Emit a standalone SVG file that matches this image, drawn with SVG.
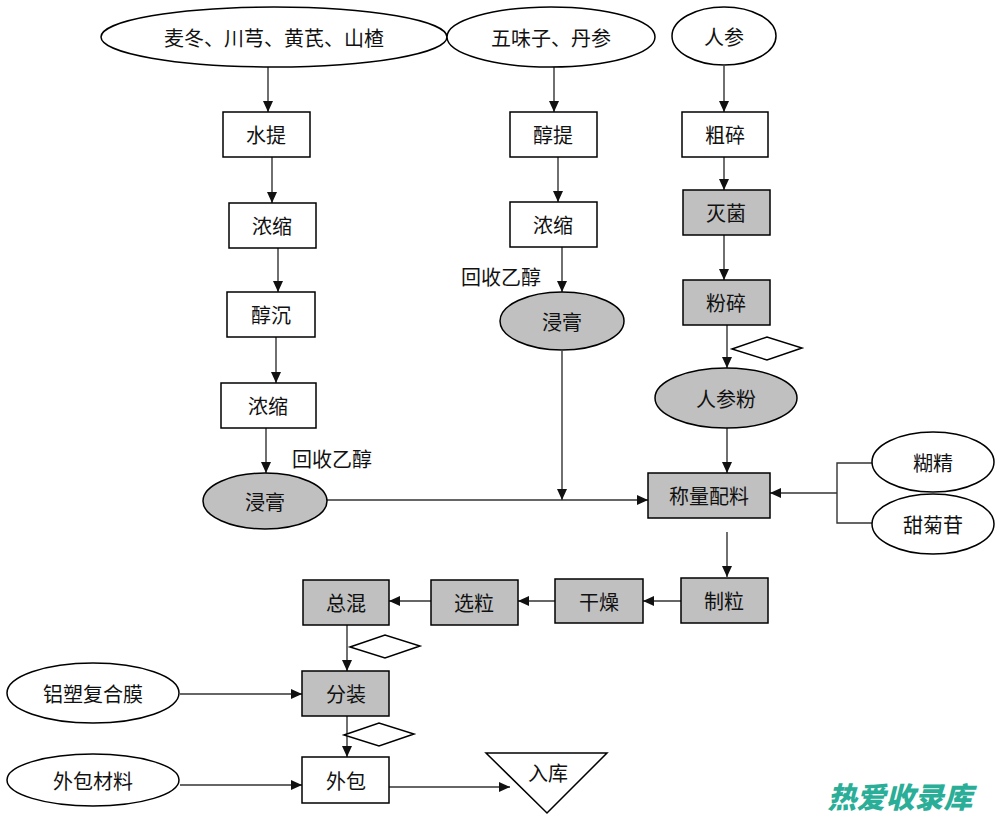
<svg xmlns="http://www.w3.org/2000/svg" width="1000" height="819" viewBox="0 0 1000 819">
<defs>
<style>
.n{fill:#fff;stroke:#000;stroke-width:1.5}
.g{fill:#c0c0c0;stroke:#000;stroke-width:1.5}
.t{font-family:"Noto Sans CJK SC","Liberation Sans",sans-serif;font-size:20px;fill:#111;text-anchor:middle;dominant-baseline:central}
.l{fill:none;stroke:#333;stroke-width:1.4}
.a{marker-end:url(#arr)}
.wm{font-family:"Noto Sans CJK SC",sans-serif;font-size:29px;font-weight:900;font-style:italic;fill:#2aae98;text-anchor:middle}
</style>
<marker id="arr" markerUnits="userSpaceOnUse" markerWidth="12" markerHeight="10" refX="11" refY="5" orient="auto">
<path d="M0,0 L11,5 L0,10 z" fill="#111"/>
</marker>
</defs>
<rect width="1000" height="819" fill="#fff"/>

<g id="connectors">
<line class="l a" x1="268" y1="67" x2="268" y2="112"/>
<line class="l a" x1="272" y1="157" x2="272" y2="203"/>
<line class="l a" x1="278" y1="248" x2="278" y2="292"/>
<line class="l a" x1="276" y1="337" x2="276" y2="383"/>
<line class="l a" x1="266" y1="428" x2="266" y2="473"/>
<line class="l a" x1="327" y1="500" x2="648" y2="500"/>
<line class="l a" x1="554" y1="67" x2="554" y2="112"/>
<line class="l a" x1="558" y1="157" x2="558" y2="202"/>
<line class="l a" x1="562" y1="247" x2="562" y2="292"/>
<line class="l a" x1="562" y1="351" x2="562" y2="500"/>
<line class="l a" x1="724" y1="66" x2="724" y2="112"/>
<line class="l a" x1="724" y1="157" x2="724" y2="190"/>
<line class="l a" x1="724" y1="235" x2="724" y2="280"/>
<line class="l a" x1="727" y1="325" x2="727" y2="368"/>
<line class="l a" x1="727" y1="428" x2="727" y2="473"/>
<polyline class="l" points="873,463 837,463 837,523 873,523"/>
<line class="l a" x1="837" y1="493" x2="770" y2="493"/>
<line class="l a" x1="727" y1="532" x2="727" y2="577"/>
<line class="l a" x1="681" y1="601" x2="643" y2="601"/>
<line class="l a" x1="555" y1="601" x2="518" y2="601"/>
<line class="l a" x1="431" y1="601" x2="389" y2="601"/>
<line class="l a" x1="347" y1="625" x2="347" y2="671"/>
<line class="l a" x1="180" y1="694" x2="302" y2="694"/>
<line class="l a" x1="347" y1="716" x2="347" y2="757"/>
<line class="l a" x1="180" y1="785" x2="302" y2="785"/>
<line class="l a" x1="389" y1="787" x2="510" y2="787"/>
</g>

<g id="e-maidong"><ellipse class="n" cx="274" cy="37" rx="173" ry="30"/><text class="t" x="274" y="37">麦冬、川芎、黄芪、山楂</text></g>
<g id="e-wuweizi"><ellipse class="n" cx="551" cy="37" rx="104" ry="30"/><text class="t" x="551" y="37">五味子、丹参</text></g>
<g id="e-renshen"><ellipse class="n" cx="724" cy="36" rx="52" ry="29"/><text class="t" x="724" y="36">人参</text></g>

<g id="b-shuiti"><rect class="n" x="223" y="112" width="87" height="45"/><text class="t" x="266" y="134">水提</text></g>
<g id="b-nongsuo1"><rect class="n" x="229" y="203" width="87" height="45"/><text class="t" x="272" y="225">浓缩</text></g>
<g id="b-chunchen"><rect class="n" x="227" y="292" width="88" height="45"/><text class="t" x="271" y="314">醇沉</text></g>
<g id="b-nongsuo2"><rect class="n" x="221" y="383" width="95" height="45"/><text class="t" x="268" y="405">浓缩</text></g>
<g id="lbl-huishou1"><text class="t" x="332" y="458">回收乙醇</text></g>
<g id="e-jingao1"><ellipse class="g" cx="265" cy="501" rx="62" ry="28"/><text class="t" x="265" y="501">浸膏</text></g>

<g id="b-chunti"><rect class="n" x="510" y="112" width="87" height="45"/><text class="t" x="553" y="134">醇提</text></g>
<g id="b-nongsuo3"><rect class="n" x="510" y="202" width="87" height="45"/><text class="t" x="553" y="224">浓缩</text></g>
<g id="lbl-huishou2"><text class="t" x="501" y="276">回收乙醇</text></g>
<g id="e-jingao2"><ellipse class="g" cx="562" cy="321" rx="62" ry="29"/><text class="t" x="562" y="321">浸膏</text></g>

<g id="b-cusui"><rect class="n" x="682" y="112" width="86" height="45"/><text class="t" x="725" y="134">粗碎</text></g>
<g id="b-miejun"><rect class="g" x="683" y="190" width="87" height="45"/><text class="t" x="726" y="212">灭菌</text></g>
<g id="b-fensui"><rect class="g" x="683" y="280" width="87" height="45"/><text class="t" x="726" y="302">粉碎</text></g>
<g id="d-1"><polygon class="n" points="732,349 767,337 802,348 767,360"/></g>
<g id="e-renshenfen"><ellipse class="g" cx="726" cy="398" rx="71" ry="30"/><text class="t" x="726" y="398">人参粉</text></g>
<g id="b-chengliang"><rect class="g" x="648" y="473" width="122" height="45"/><text class="t" x="709" y="495">称量配料</text></g>
<g id="e-hujing"><ellipse class="n" cx="933" cy="462" rx="61" ry="30"/><text class="t" x="933" y="462">糊精</text></g>
<g id="e-tianjugan"><ellipse class="n" cx="933" cy="524" rx="61" ry="30"/><text class="t" x="933" y="524">甜菊苷</text></g>

<g id="b-zhili"><rect class="g" x="681" y="578" width="87" height="45"/><text class="t" x="724" y="600">制粒</text></g>
<g id="b-ganzao"><rect class="g" x="555" y="579" width="88" height="44"/><text class="t" x="599" y="601">干燥</text></g>
<g id="b-xuanli"><rect class="g" x="431" y="580" width="87" height="45"/><text class="t" x="474" y="602">选粒</text></g>
<g id="b-zonghun"><rect class="g" x="303" y="580" width="86" height="45"/><text class="t" x="346" y="602">总混</text></g>
<g id="d-2"><polygon class="n" points="350,647 385,635 420,646 385,658"/></g>
<g id="e-lvsu"><ellipse class="n" cx="93" cy="693" rx="86" ry="30"/><text class="t" x="93" y="693">铝塑复合膜</text></g>
<g id="b-fenzhuang"><rect class="g" x="302" y="671" width="87" height="45"/><text class="t" x="346" y="693">分装</text></g>
<g id="d-3"><polygon class="n" points="344,735 379,723 414,734 379,746"/></g>
<g id="e-waibaocailiao"><ellipse class="n" cx="93" cy="780" rx="86" ry="26"/><text class="t" x="93" y="780">外包材料</text></g>
<g id="b-waibao"><rect class="n" x="302" y="757" width="87" height="46"/><text class="t" x="346" y="780">外包</text></g>
<g id="t-ruku"><polygon class="n" points="486,753 607,753 547,813"/><text class="t" x="548" y="772">入库</text></g>

<text class="wm" x="900" y="808">热爱收录库</text>
</svg>
